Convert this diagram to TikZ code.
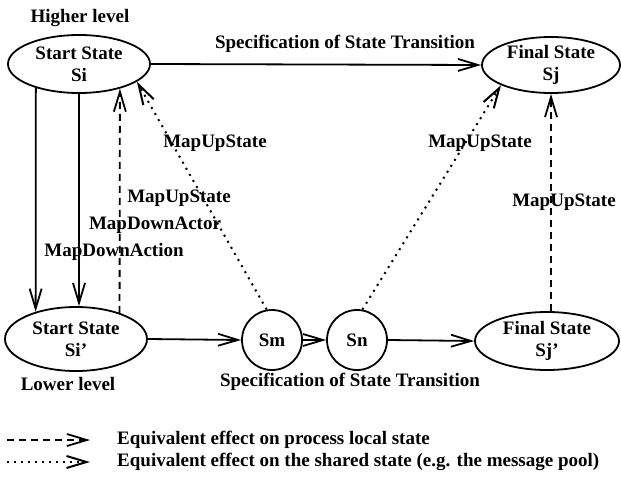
\documentclass[tikz,border=0pt]{standalone}
\usepackage{fontspec}
\setmainfont{Liberation Serif}
\usetikzlibrary{arrows.meta,shapes.geometric}

\tikzset{
  every node/.style={font=\bfseries\fontsize{19}{22}\selectfont},
  state/.style={draw, ellipse, line width=1.8pt, inner sep=-2pt, align=center},
  pt/.style={draw, circle, line width=1.8pt, inner sep=0pt, minimum size=60pt},
  lbl/.style={inner sep=1pt},
  flow/.style={line width=1.8pt, -{Straight Barb[length=20pt,width=12pt]}},
  localmap/.style={flow, dash pattern=on 7pt off 5pt},
  sharedmap/.style={flow, line width=2pt, dash pattern=on 2pt off 5pt},
}

\begin{document}
\begin{tikzpicture}[x=1pt, y=-1pt]
\useasboundingbox (0,0) rectangle (621,479);

% states on the higher level
\node[state, minimum width=142pt, minimum height=58pt] (Si) at (79,64) {Start State\\Si};
\node[state, minimum width=138pt, minimum height=56pt] (Sj) at (551,65) {Final State\\Sj};

% states on the lower level
\node[state, minimum width=142pt, minimum height=64pt] (Si2) at (76,339) {Start State\\Si'};
\node[pt] (Sm) at (272,340) {Sm};
\node[pt] (Sn) at (357,340) {Sn};
\node[state, minimum width=144pt, minimum height=58pt] (Sj2) at (547,341) {Final State\\Sj'};

% transitions
\draw[flow] (Si.east) -- (Sj.west);
\draw[flow] (Si2.east) -- (Sm.west);
\draw[flow] (Sm.east) -- (Sn.west);
\draw[flow] (Sn.east) -- (Sj2.west);

% mapping down
\draw[flow] (Si.209) -- (Si2.146);
\draw[flow] (Si.south) -- (Si.south |- Si2.north);

% mapping up
\draw[localmap] (Si2.31) -- (Si.329);
\draw[sharedmap] (Sm.100) -- (Si.343);
\draw[sharedmap] (Sn.80) -- (Sj.202);
\draw[localmap] (Sj.south |- Sj2.north) -- (Sj.south);

% labels
\node[lbl] (hl) at (80,18) {Higher level};
\node[lbl] (spec1) at (345,44) {Specification of State Transition};
\node[lbl] (mu1) at (215,143) {MapUpState};
\node[lbl] (mu2) at (179,198) {MapUpState};
\node[lbl] (mda) at (155,225) {MapDownActor};
\node[lbl] (mdn) at (114,252) {MapDownAction};
\node[lbl] (mu3) at (480,143) {MapUpState};
\node[lbl] (mu4) at (564,202) {MapUpState};
\node[lbl] (ll) at (68,384) {Lower level};
\node[lbl] (spec2) at (350,382) {Specification of State Transition};

% legend
\coordinate (d0) at (7,440);
\coordinate (d1) at (90,440);
\coordinate (s0) at (7,462);
\coordinate (s1) at (90,462);
\draw[localmap] (d0) -- (d1);
\draw[sharedmap] (s0) -- (s1);
\node[lbl, anchor=west] (leg1) at (116,440) {Equivalent effect on process local state};
\node[lbl, anchor=west] (leg2) at (116,462) {Equivalent effect on the shared state (e.g. the message pool)};
\end{tikzpicture}
\end{document}
